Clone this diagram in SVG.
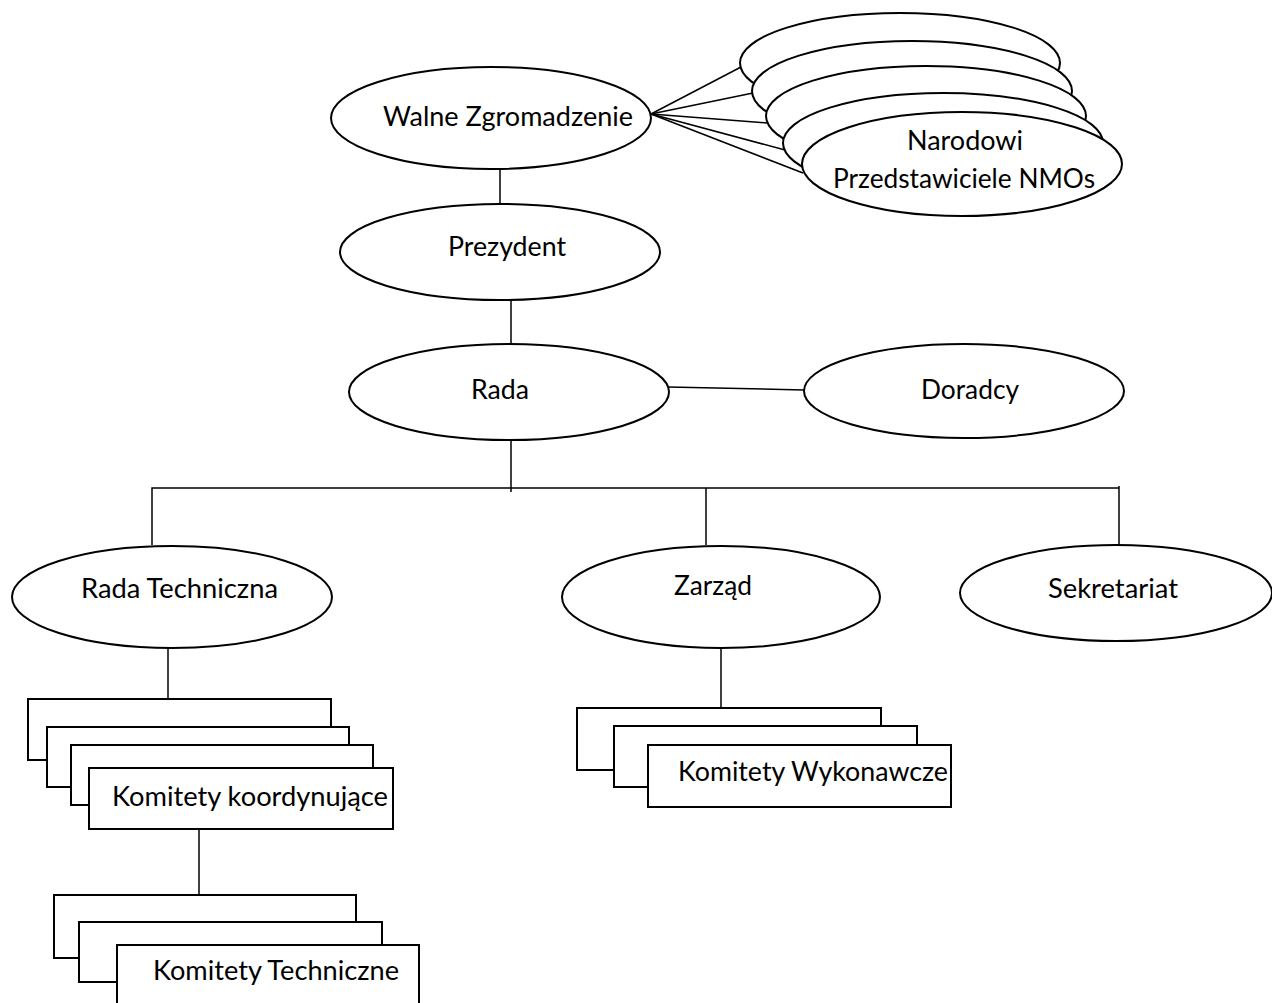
<svg xmlns="http://www.w3.org/2000/svg" width="1272" height="1003" viewBox="0 0 1272 1003">
<style>
.n{fill:#fff;stroke:#000;stroke-width:2}
.c{stroke:#000;stroke-width:1.5;fill:none}
text{font-family:Lato,"Open Sans","Liberation Sans",sans-serif;font-size:26px;fill:#000}
</style>
<rect width="1272" height="1003" fill="#fff"/>
<g id="connectors">
<line class="c" x1="651" y1="114" x2="741" y2="67"/>
<line class="c" x1="651" y1="114" x2="753" y2="93"/>
<line class="c" x1="651" y1="114" x2="767" y2="123"/>
<line class="c" x1="651" y1="114" x2="785" y2="150"/>
<line class="c" x1="651" y1="114" x2="803" y2="173"/>
<line class="c" x1="500" y1="169" x2="500" y2="204"/>
<line class="c" x1="511" y1="300" x2="511" y2="345"/>
<line class="c" x1="668" y1="387" x2="804" y2="390"/>
<line class="c" x1="511" y1="440" x2="511" y2="492"/>
<polyline class="c" points="152,545 152,488 1119,488"/>
<line class="c" x1="706" y1="488" x2="706" y2="545"/>
<line class="c" x1="1119" y1="486" x2="1119" y2="545"/>
<line class="c" x1="168" y1="648" x2="168" y2="699"/>
<line class="c" x1="721" y1="648" x2="721" y2="708"/>
<line class="c" x1="199" y1="829" x2="199" y2="895"/>
</g>
<g id="walne-zgromadzenie">
<ellipse class="n" cx="491" cy="118" rx="160" ry="51"/>
<text x="383" y="126" textLength="250" lengthAdjust="spacingAndGlyphs">Walne Zgromadzenie</text>
</g>
<g id="narodowi-przedstawiciele">
<ellipse class="n" cx="900" cy="63" rx="160" ry="50"/>
<ellipse class="n" cx="912" cy="91" rx="160" ry="50"/>
<ellipse class="n" cx="926" cy="116" rx="160" ry="50"/>
<ellipse class="n" cx="943" cy="143" rx="160" ry="50"/>
<ellipse class="n" cx="962" cy="164" rx="160" ry="52"/>
<text x="907" y="150" textLength="116" lengthAdjust="spacingAndGlyphs">Narodowi</text>
<text x="833" y="188" textLength="262" lengthAdjust="spacingAndGlyphs">Przedstawiciele NMOs</text>
</g>
<g id="prezydent">
<ellipse class="n" cx="500" cy="252" rx="160" ry="48"/>
<text x="448" y="256" textLength="118" lengthAdjust="spacingAndGlyphs">Prezydent</text>
</g>
<g id="rada">
<ellipse class="n" cx="509" cy="392" rx="160" ry="48"/>
<text x="471" y="399" textLength="58" lengthAdjust="spacingAndGlyphs">Rada</text>
</g>
<g id="doradcy">
<ellipse class="n" cx="964" cy="391" rx="160" ry="47"/>
<text x="921" y="399" textLength="98" lengthAdjust="spacingAndGlyphs">Doradcy</text>
</g>
<g id="rada-techniczna">
<ellipse class="n" cx="172" cy="597" rx="160" ry="51"/>
<text x="81" y="598" textLength="197" lengthAdjust="spacingAndGlyphs">Rada Techniczna</text>
</g>
<g id="zarzad">
<ellipse class="n" cx="721" cy="597" rx="159" ry="51"/>
<text x="674" y="595" textLength="78" lengthAdjust="spacingAndGlyphs">Zarząd</text>
</g>
<g id="sekretariat">
<ellipse class="n" cx="1116" cy="593" rx="156" ry="48"/>
<text x="1048" y="598" textLength="130" lengthAdjust="spacingAndGlyphs">Sekretariat</text>
</g>
<g id="komitety-koordynujace">
<rect class="n" x="28" y="699" width="303" height="61"/>
<rect class="n" x="47" y="727" width="302" height="60"/>
<rect class="n" x="71" y="745" width="302" height="60"/>
<rect class="n" x="89" y="768" width="304" height="61"/>
<text x="112" y="806" textLength="276" lengthAdjust="spacingAndGlyphs">Komitety koordynujące</text>
</g>
<g id="komitety-wykonawcze">
<rect class="n" x="577" y="708" width="304" height="62"/>
<rect class="n" x="614" y="726" width="303" height="61"/>
<rect class="n" x="648" y="745" width="303" height="62"/>
<text x="678" y="781" textLength="270" lengthAdjust="spacingAndGlyphs">Komitety Wykonawcze</text>
</g>
<g id="komitety-techniczne">
<rect class="n" x="54" y="895" width="302" height="63"/>
<rect class="n" x="79" y="922" width="303" height="60"/>
<rect class="n" x="117" y="945" width="302" height="62"/>
<text x="153" y="980" textLength="246" lengthAdjust="spacingAndGlyphs">Komitety Techniczne</text>
</g>
</svg>
